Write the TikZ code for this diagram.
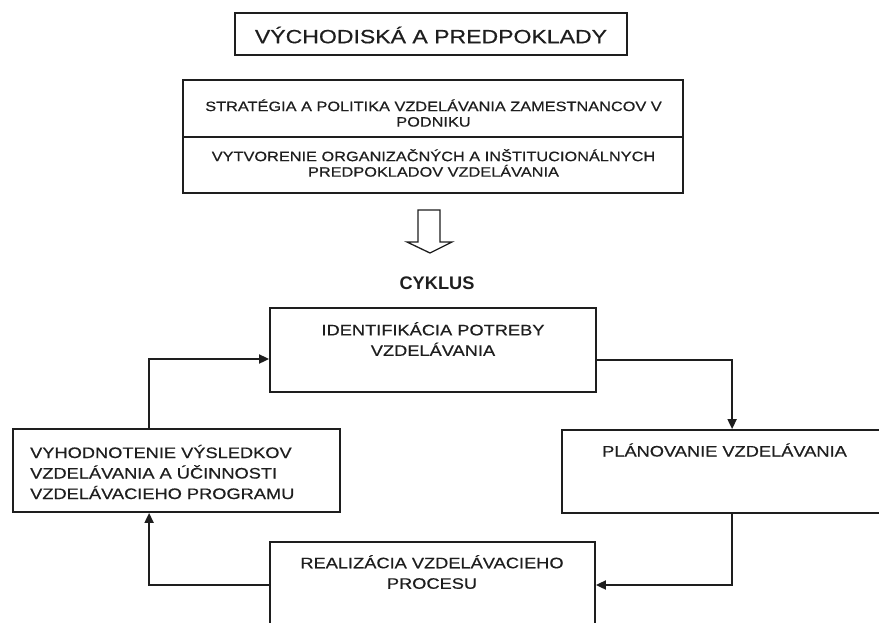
\documentclass[tikz,border=0pt]{standalone}
\usepackage{fontspec}
\setmainfont{Liberation Sans}
\newfontfamily\wf[FakeStretch=1.2,FakeBold=0.5]{Liberation Sans}
\usetikzlibrary{arrows.meta}
\definecolor{ink}{HTML}{1E1E1E}
\begin{document}
\begin{tikzpicture}[x=1pt,y=-1pt,
  box/.style={draw=ink,line width=1.8pt,rectangle,inner sep=0pt},
  txt/.style={text=ink,inner sep=0pt,align=center,font=\wf\fontsize{15.2}{20.5}\selectfont},
  arr/.style={draw=ink,line width=1.8pt,-{Triangle[length=10pt,width=9pt]}},
  ]
\clip (0,0) rectangle (879,622);
\fill[white] (0,0) rectangle (879,622);
% top title
\node[box,minimum width=392pt,minimum height=42pt] (title) at (431,34) {};
\node[txt,font=\wf\fontsize{19.2}{23}\selectfont] (ttitle) at (431,35) {VÝCHODISKÁ A PREDPOKLADY};
% second box
\node[box,minimum width=500pt,minimum height=113pt] (pred) at (433,136.5) {};
\draw[ink,line width=1.8pt] (pred.west |- 0,137) -- (pred.east |- 0,137);
\node[txt,font=\wf\fontsize{13.6}{15.5}\selectfont] (tstrat) at (433.5,113) {STRATÉGIA A POLITIKA VZDELÁVANIA ZAMESTNANCOV V\\PODNIKU};
\node[txt,font=\wf\fontsize{13.6}{15.5}\selectfont] (tvytv) at (433.5,163) {VYTVORENIE ORGANIZAČNÝCH A INŠTITUCIONÁLNYCH\\PREDPOKLADOV VZDELÁVANIA};
% hollow arrow
\draw[ink,line width=1.3pt,line join=miter] (418,210) -- (418,242) -- (407,242) -- (430,253) -- (452,242) -- (440,242) -- (440,210) -- cycle;
\node[text=ink,inner sep=0pt,font=\bfseries\fontsize{18.2}{20}\selectfont] (cyk) at (437,283) {CYKLUS};
% cycle boxes
\node[box,minimum width=326pt,minimum height=84pt] (ident) at (433,350) {};
\node[txt] (tident) at (433,339) {IDENTIFIKÁCIA POTREBY\\VZDELÁVANIA};
\node[box,minimum width=338pt,minimum height=83pt] (plan) at (731,471.5) {};
\node[txt] (tplan) at (724.5,450) {PLÁNOVANIE VZDELÁVANIA};
\node[box,minimum width=327pt,minimum height=83pt] (vyh) at (176.5,470.5) {};
\node[txt,align=left,anchor=west] (tvyh) at (30,472) {VYHODNOTENIE VÝSLEDKOV\\VZDELÁVANIA A ÚČINNOSTI\\VZDELÁVACIEHO PROGRAMU};
\node[box,minimum width=325pt,minimum height=86pt] (real) at (432.5,585) {};
\node[txt] (treal) at (432,572) {REALIZÁCIA VZDELÁVACIEHO\\PROCESU};
% connectors
\draw[arr] ([yshift=-10pt]ident.east) -| ([xshift=171pt]plan.north west);
\draw[arr] ([xshift=171pt]plan.south west) |- (real.east);
\draw[arr] (real.west) -| ([xshift=137pt]vyh.south west);
\draw[arr] ([xshift=137pt]vyh.north west) |- ([yshift=-9pt]ident.west);
\end{tikzpicture}
\end{document}
